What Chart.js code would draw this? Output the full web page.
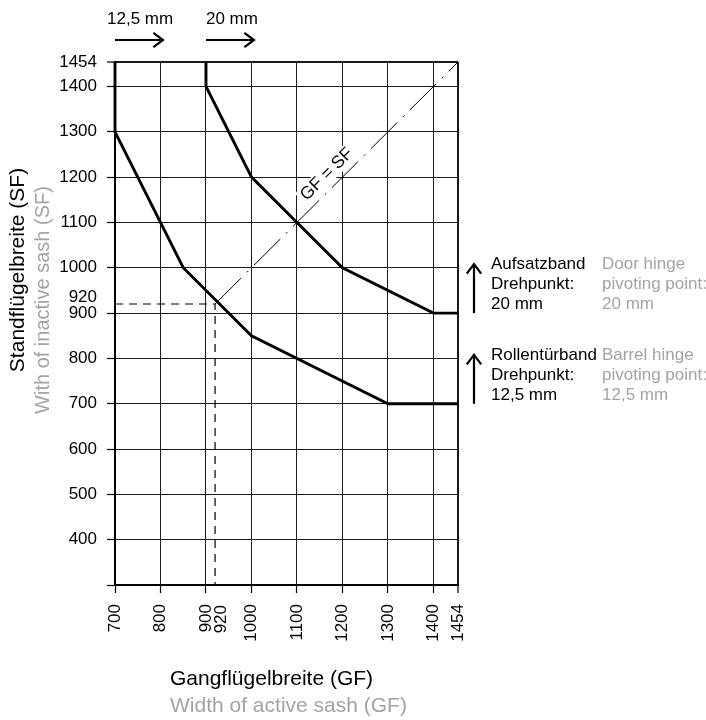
<!DOCTYPE html>
<html><head><meta charset="utf-8">
<script src="https://cdn.jsdelivr.net/npm/chart.js@4.4.1/dist/chart.umd.min.js"></script>
<style>html,body{margin:0;padding:0;background:#fff;}canvas{display:block;}</style>
</head><body>
<canvas id="c" width="706" height="720"></canvas>
<script>
const FONT = "'Liberation Sans', Arial, Helvetica, sans-serif";
const GREY = '#a3a3a3';
const FS = 17;

// axes
const X_MIN = 700, X_MAX = 1454, Y_MIN = 300, Y_MAX = 1454;
const X_TICKS = [700, 800, 900, 920, 1000, 1100, 1200, 1300, 1400, 1454];
const Y_TICKS = [300, 400, 500, 600, 700, 800, 900, 920, 1000, 1100, 1200, 1300, 1400, 1454];
const MARKED = 920;            // example value, label nudged apart from 900

// Barrel hinge (pivot 12,5 mm)
const GF_BARREL = [700, 700, 850, 1000, 1300, 1454];
const SF_BARREL = [1454, 1300, 1000, 850, 700, 700];
// Door hinge (pivot 20 mm)
const GF_DOOR = [900, 900, 1000, 1100, 1200, 1400, 1454];
const SF_DOOR = [1454, 1400, 1200, 1100, 1000, 900, 900];
// example reading GF = 920 / SF = 920
const GF_EXAMPLE = [700, 920, 920];
const SF_EXAMPLE = [920, 920, 300];
// diagonal GF = SF
const GF_DIAG = [920, 1454];
const SF_DIAG = [920, 1454];
const DIAG_LABEL = 'GF = SF';
const DIAG_LABEL_AT = 1186;

// annotations
const TOP_LABELS = ['12,5 mm', '20 mm'];
const TOP_AT = [700, 900];
const RIGHT_AT = [900, 700];
const RIGHT_DE = [['Aufsatzband', 'Drehpunkt:', '20 mm'], ['Rollentürband', 'Drehpunkt:', '12,5 mm']];
const RIGHT_EN = [['Door hinge', 'pivoting point:', '20 mm'], ['Barrel hinge', 'pivoting point:', '12,5 mm']];
const X_TITLE = ['Gangflügelbreite (GF)', 'Width of active sash (GF)'];
const Y_TITLE = ['Standflügelbreite (SF)', 'With of inactive sash (SF)'];

const pts = (xs, ys) => xs.map((v, i) => ({x: v, y: ys[i]}));

function arrow(ctx, x1, y1, x2, y2) {
  const a = Math.atan2(y2 - y1, x2 - x1);
  ctx.beginPath();
  ctx.moveTo(x1, y1); ctx.lineTo(x2, y2);
  const L = 12, W = 0.64;
  ctx.moveTo(x2 - L * Math.cos(a - W), y2 - L * Math.sin(a - W));
  ctx.lineTo(x2, y2);
  ctx.lineTo(x2 - L * Math.cos(a + W), y2 - L * Math.sin(a + W));
  ctx.stroke();
}

function diagCenter(x, y) {
  const a = Math.atan2(y.getPixelForValue(SF_DIAG[1]) - y.getPixelForValue(SF_DIAG[0]),
                       x.getPixelForValue(GF_DIAG[1]) - x.getPixelForValue(GF_DIAG[0]));
  const px = x.getPixelForValue(DIAG_LABEL_AT), py = y.getPixelForValue(DIAG_LABEL_AT);
  const off = 13;
  return {x: px + off * Math.sin(a), y: py - off * Math.cos(a), a};
}

const annot = {
  id: 'annot',
  beforeDatasetsDraw(chart) {
    const {ctx, scales: {x, y}} = chart;
    const c = diagCenter(x, y);
    ctx.save();
    ctx.translate(c.x, c.y); ctx.rotate(c.a);
    ctx.font = '17.5px ' + FONT;
    const w = ctx.measureText(DIAG_LABEL).width;
    ctx.fillStyle = '#fff';
    ctx.fillRect(-w / 2 - 3, -9, w + 6, 18);
    ctx.restore();
  },
  afterDatasetsDraw(chart) {
    const {ctx, chartArea: ca, scales: {x, y}} = chart;
    ctx.save();
    // diagonal label
    const c = diagCenter(x, y);
    ctx.save();
    ctx.translate(c.x, c.y); ctx.rotate(c.a);
    ctx.font = '17.5px ' + FONT;
    ctx.fillStyle = '#000'; ctx.textAlign = 'center'; ctx.textBaseline = 'middle';
    ctx.fillText(DIAG_LABEL, 0, 0);
    ctx.restore();

    // nudged 920 tick labels
    ctx.font = FS + 'px ' + FONT;
    ctx.fillStyle = '#000';
    ctx.textAlign = 'right'; ctx.textBaseline = 'middle';
    ctx.fillText(String(MARKED), ca.left - 18, y.getPixelForValue(MARKED) - 6.5);
    ctx.save();
    ctx.translate(x.getPixelForValue(MARKED) + 6, ca.bottom + 20);
    ctx.rotate(-Math.PI / 2);
    ctx.fillText(String(MARKED), 0, 0);
    ctx.restore();

    // top arrows
    ctx.strokeStyle = '#000'; ctx.lineWidth = 2.2; ctx.lineCap = 'butt';
    ctx.textAlign = 'left'; ctx.textBaseline = 'alphabetic';
    ctx.font = FS + 'px ' + FONT;
    TOP_AT.forEach((v, i) => {
      const sx = x.getPixelForValue(v);
      arrow(ctx, sx, ca.top - 22, sx + 48, ca.top - 22);
      ctx.fillText(TOP_LABELS[i], sx - (i === 0 ? 8 : 0), ca.top - 38);
    });

    // right arrows + texts
    RIGHT_AT.forEach((v, i) => {
      const py = y.getPixelForValue(v);
      arrow(ctx, ca.right + 16, py, ca.right + 16, py - 49);
      [-44, -24, -4].forEach((dy, j) => {
        ctx.fillStyle = '#000';
        ctx.fillText(RIGHT_DE[i][j], ca.right + 33, py + dy);
        ctx.fillStyle = GREY;
        ctx.fillText(RIGHT_EN[i][j], ca.right + 144, py + dy);
      });
    });

    // axis titles
    ctx.font = '21px ' + FONT;
    ctx.fillStyle = '#000';
    ctx.fillText(X_TITLE[0], 170, 685);
    ctx.fillStyle = GREY;
    ctx.fillText(X_TITLE[1], 170, 712);

    ctx.textAlign = 'center'; ctx.textBaseline = 'middle';
    ctx.save(); ctx.translate(18, 270); ctx.rotate(-Math.PI / 2);
    ctx.fillStyle = '#000'; ctx.fillText(Y_TITLE[0], 0, 0); ctx.restore();
    ctx.font = '20px ' + FONT;
    ctx.save(); ctx.translate(43, 300); ctx.rotate(-Math.PI / 2);
    ctx.fillStyle = GREY; ctx.fillText(Y_TITLE[1], 0, 0); ctx.restore();
    ctx.restore();
  }
};

const gridColor = ctx => (ctx.tick && ctx.tick.value === MARKED) ? 'rgba(0,0,0,0)' : '#1a1a1a';
const gridWidth = (max) => ctx => (ctx.tick && ctx.tick.value === max) ? 2 : 1;
const tickColor = ctx => (ctx.tick && ctx.tick.value === MARKED) ? 'rgba(0,0,0,0)' : '#000';

Chart.defaults.font.family = FONT;
Chart.defaults.color = '#000';

new Chart(document.getElementById('c'), {
  type: 'scatter',
  data: {
    datasets: [
      {label: 'Rollentürband 12,5 mm', data: pts(GF_BARREL, SF_BARREL), showLine: true,
       borderColor: '#000', borderWidth: 2.9, pointRadius: 0, clip: 4},
      {label: 'Aufsatzband 20 mm', data: pts(GF_DOOR, SF_DOOR), showLine: true,
       borderColor: '#000', borderWidth: 2.9, pointRadius: 0, clip: 4},
      {label: 'GF = SF', data: pts(GF_DIAG, SF_DIAG), showLine: true,
       borderColor: '#000', borderWidth: 1, borderDash: [37, 8, 2, 8], pointRadius: 0},
      {label: '920', data: pts(GF_EXAMPLE, SF_EXAMPLE), showLine: true,
       borderColor: '#000', borderWidth: 1.2, borderDash: [8, 6], pointRadius: 0}
    ]
  },
  options: {
    responsive: false,
    animation: false,
    devicePixelRatio: 1,
    layout: {padding: {top: 62, right: 248, left: 0, bottom: 0}},
    plugins: {legend: {display: false}, tooltip: {enabled: false}},
    scales: {
      x: {
        type: 'linear', min: X_MIN, max: X_MAX,
        afterBuildTicks: s => { s.ticks = X_TICKS.map(v => ({value: v})); },
        afterFit: s => { s.height = 135; },
        ticks: {autoSkip: false, minRotation: 90, maxRotation: 90, padding: 11,
                font: {size: FS}, color: '#000',
                callback: v => (v === MARKED ? '' : String(v))},
        grid: {color: gridColor, lineWidth: gridWidth(X_MAX), tickLength: 8,
               tickColor: tickColor, tickWidth: 1.2},
        border: {display: true, color: '#000', width: 2}
      },
      y: {
        type: 'linear', min: Y_MIN, max: Y_MAX,
        afterBuildTicks: s => { s.ticks = Y_TICKS.map(v => ({value: v})); },
        afterFit: s => { s.width = 115; },
        ticks: {autoSkip: false, padding: 10, font: {size: FS}, color: '#000',
                callback: v => (v === MARKED || v === Y_MIN ? '' : String(v))},
        grid: {color: gridColor, lineWidth: gridWidth(Y_MAX), tickLength: 8,
               tickColor: tickColor, tickWidth: 1.2},
        border: {display: true, color: '#000', width: 2}
      }
    }
  },
  plugins: [annot]
});
</script>
</body></html>
